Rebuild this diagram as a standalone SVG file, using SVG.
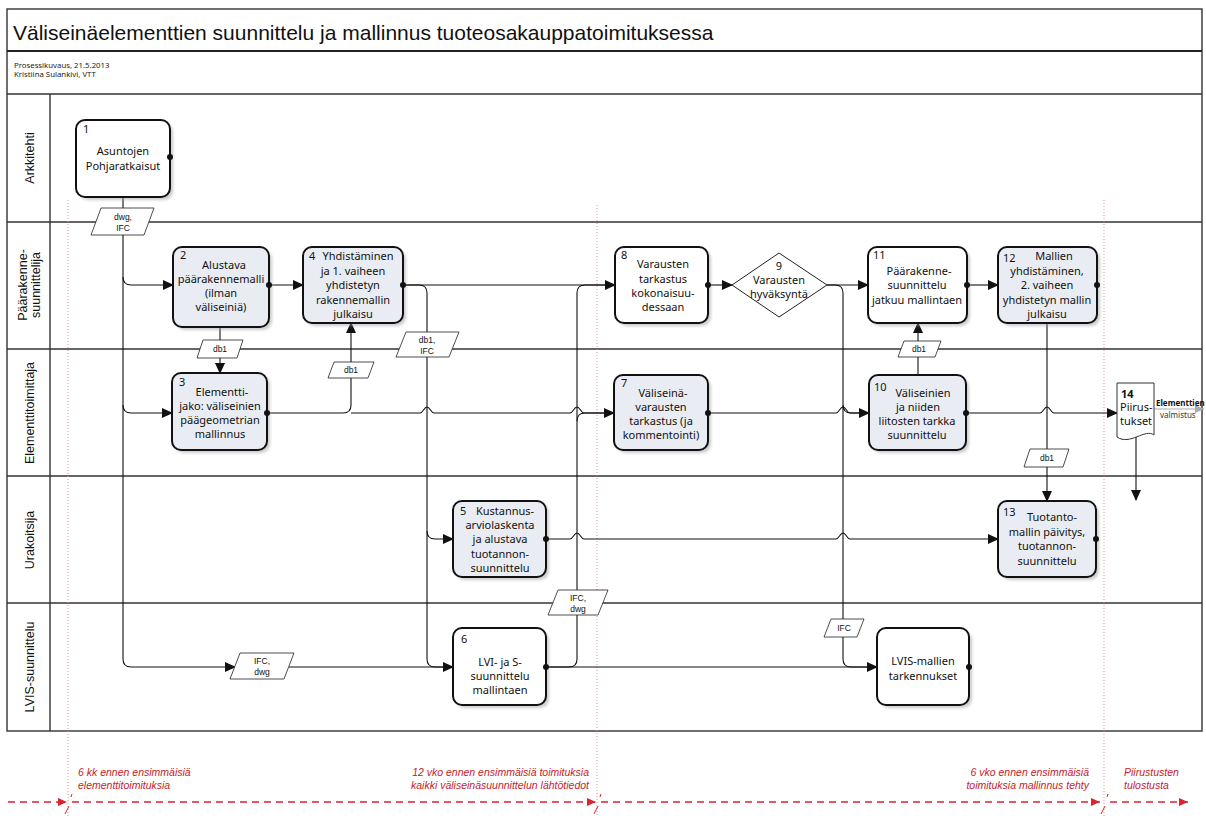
<svg xmlns="http://www.w3.org/2000/svg" width="1206" height="816" viewBox="0 0 1206 816">
<style>
.frame{fill:none;stroke:#333;stroke-width:1.4}
.node{stroke:#111;stroke-width:2}
.w{fill:#fff}
.g{fill:#e9edf3}
.shadow{fill:#999;opacity:0.5}
.t{font-family:"Noto Sans","Open Sans",sans-serif;font-size:11px;fill:#111;text-anchor:middle}
.n{font-family:"Noto Sans","Open Sans",sans-serif;font-size:11px;fill:#111}
.lane{font-family:"Liberation Sans",Arial,sans-serif;font-size:12.5px;fill:#111;text-anchor:middle}
.pg{fill:#fff;stroke:#222;stroke-width:0.8}
.pt{font-family:"Liberation Sans",Arial,sans-serif;font-size:8.5px;fill:#111;text-anchor:middle}
.c{fill:none;stroke:#111;stroke-width:1.1}
.dot{fill:#111}
.red{font-family:"Liberation Sans",Arial,sans-serif;font-size:10.5px;font-style:italic;fill:#c8202a}
.rdot{stroke:#e08a8a;stroke-width:0.9;stroke-dasharray:1 2;fill:none}
.rdash{stroke:#d9232e;stroke-width:1.3;stroke-dasharray:7 5;fill:none}
.rtick{stroke:#d9232e;stroke-width:1;fill:none}
</style>
<defs>
<marker id="arr" markerWidth="11" markerHeight="10" refX="10" refY="5" orient="auto" markerUnits="userSpaceOnUse"><path d="M0,0 L11,5 L0,10 Z" fill="#111"/></marker>
<marker id="rarr" markerWidth="9" markerHeight="8" refX="9" refY="4" orient="auto" markerUnits="userSpaceOnUse"><path d="M0,0 L9,4 L0,8 Z" fill="#d9232e"/></marker>
<marker id="garr" markerWidth="9" markerHeight="8" refX="9" refY="4" orient="auto" markerUnits="userSpaceOnUse"><path d="M0,0 L9,4 L0,8 Z" fill="#aaa"/></marker>
<filter id="blur" x="-10%" y="-10%" width="120%" height="120%"><feGaussianBlur stdDeviation="1.5"/></filter>
</defs>
<rect width="1206" height="816" fill="#fff"/>

<!-- header -->
<g id="header">
<rect x="7" y="9" width="1195" height="722" class="frame"/>
<line x1="7" y1="51" x2="1202" y2="51" stroke="#222" stroke-width="2.2"/>
<line x1="7" y1="94" x2="1202" y2="94" stroke="#333" stroke-width="1.4"/>
<text x="13" y="40" font-family="Liberation Sans,Arial,sans-serif" font-size="21" fill="#111">Väliseinäelementtien suunnittelu ja mallinnus tuoteosakauppatoimituksessa</text>
<text x="14" y="68" font-family="Noto Sans,sans-serif" font-size="7.8" fill="#222">Prosessikuvaus, 21.5.2013</text>
<text x="14" y="77" font-family="Noto Sans,sans-serif" font-size="7.8" fill="#222">Kristiina Sulankivi, VTT</text>
</g>

<!-- lanes -->
<g id="lanes">
<line x1="50" y1="94" x2="50" y2="731" class="frame"/>
<line x1="7" y1="222" x2="1202" y2="222" class="frame"/>
<line x1="7" y1="349" x2="1202" y2="349" class="frame"/>
<line x1="7" y1="476" x2="1202" y2="476" class="frame"/>
<line x1="7" y1="603" x2="1202" y2="603" class="frame"/>
<text class="lane" transform="translate(34,158) rotate(-90)">Arkkitehti</text>
<text class="lane" transform="translate(27,285) rotate(-90)">Päärakenne-</text>
<text class="lane" transform="translate(40,285) rotate(-90)">suunnittelija</text>
<text class="lane" transform="translate(34,413) rotate(-90)">Elementtitoimittaja</text>
<text class="lane" transform="translate(34,540) rotate(-90)">Urakoitsija</text>
<text class="lane" transform="translate(34,667) rotate(-90)">LVIS-suunnittelu</text>
</g>

<!-- red time markers -->
<g id="timeline">
<line x1="68" y1="200" x2="68" y2="816" class="rdot"/>
<line x1="597" y1="205" x2="597" y2="816" class="rdot"/>
<line x1="1104" y1="200" x2="1104" y2="816" class="rdot"/>
<path d="M8,802 H67" class="rdash" marker-end="url(#rarr)"/>
<path d="M72,802 H596" class="rdash" marker-end="url(#rarr)"/>
<path d="M601,802 H1100" class="rdash" marker-end="url(#rarr)"/>
<path d="M1110,802 H1188" class="rdash" marker-end="url(#rarr)"/>
<path d="M65,814 L69,806 M71,797 L72,794" class="rtick"/>
<path d="M594,814 L598,806 M600,797 L601,794" class="rtick"/>
<path d="M1101,814 L1105,806 M1107,797 L1108,794" class="rtick"/>
<text class="red" x="78" y="776">6 kk ennen ensimmäisiä</text>
<text class="red" x="78" y="789">elementtitoimituksia</text>
<text class="red" x="589" y="776" text-anchor="end">12 vko ennen ensimmäisiä toimituksia</text>
<text class="red" x="589" y="789" text-anchor="end">kaikki väliseinäsuunnittelun lähtötiedot</text>
<text class="red" x="1089" y="776" text-anchor="end">6 vko ennen ensimmäisiä</text>
<text class="red" x="1089" y="789" text-anchor="end">toimituksia mallinnus tehty</text>
<text class="red" x="1124" y="776">Piirustusten</text>
<text class="red" x="1124" y="789">tulostusta</text>
</g>

<!-- connectors -->
<g id="connectors">
<path class="c" d="M123,197 V659 Q123,667 131,667 H235" marker-end="url(#arr)"/>
<path class="c" d="M123,277 Q123,285 131,285 H173" marker-end="url(#arr)"/>
<path class="c" d="M123,405 Q123,413 131,413 H172" marker-end="url(#arr)"/>
<path class="c" d="M289,667 H453" marker-end="url(#arr)"/>
<path class="c" d="M269,285 H303" marker-end="url(#arr)"/>
<path class="c" d="M220,327 V373" marker-end="url(#arr)"/>
<path class="c" d="M267,413 H343 Q351,413 351,405 V323" marker-end="url(#arr)"/>
<path class="c" d="M351,413 H420 c3,0 4,-6 7,-6 c3,0 4,6 7,6 H570 c3,0 4,-6 7,-6 c3,0 4,6 7,6 H614" marker-end="url(#arr)"/>
<path class="c" d="M403,285 H615" marker-end="url(#arr)"/>
<path class="c" d="M403,285 H419 Q427,285 427,293 V531 Q427,539 435,539 H453" marker-end="url(#arr)"/>
<path class="c" d="M427,531 V659 Q427,667 435,667 H453"/>
<path class="c" d="M546,667 H569 Q577,667 577,659 V293 Q577,285 585,285 H615"/>
<path class="c" d="M577,421 Q577,413 585,413 H614"/>
<path class="c" d="M546,667 H877" marker-end="url(#arr)"/>
<path class="c" d="M708,285 H732" marker-end="url(#arr)"/>
<path class="c" d="M827,285 H868" marker-end="url(#arr)"/>
<path class="c" d="M827,285 H835 Q843,285 843,293 V659 Q843,667 851,667 H877"/>
<path class="c" d="M843,405 Q843,413 851,413 H869"/>
<path class="c" d="M708,413 H836 c3,0 4,-6 7,-6 c3,0 4,6 7,6 H869" marker-end="url(#arr)"/>
<path class="c" d="M918,375 V323" marker-end="url(#arr)"/>
<path class="c" d="M967,285 H998" marker-end="url(#arr)"/>
<path class="c" d="M1047,323 V501" marker-end="url(#arr)"/>
<path class="c" d="M966,413 H1040 c3,0 4,-6 7,-6 c3,0 4,6 7,6 H1117" marker-end="url(#arr)"/>
<path class="c" d="M546,539 H570 c3,0 4,-6 7,-6 c3,0 4,6 7,6 H836 c3,0 4,-6 7,-6 c3,0 4,6 7,6 H998" marker-end="url(#arr)"/>
<path class="c" d="M1136,437 V500" marker-end="url(#arr)"/>
<path d="M1154,409 H1204" stroke="#aaa" stroke-width="1.2" fill="none" marker-end="url(#garr)"/>
</g>

<!-- data parallelograms -->
<g id="data-dwg-ifc"><polygon class="pg" points="101,208 154,208 144,235 91,235"/><text class="pt" x="123" y="220">dwg,</text><text class="pt" x="123" y="231">IFC</text></g>
<g id="data-db1-a"><polygon class="pg" points="203,340 243,340 237,358 197,358"/><text class="pt" x="220" y="352">db1</text></g>
<g id="data-db1-b"><polygon class="pg" points="334,362 374,362 368,378 328,378"/><text class="pt" x="351" y="373">db1</text></g>
<g id="data-db1-ifc"><polygon class="pg" points="406,332 459,332 449,357 396,357"/><text class="pt" x="427" y="343">db1,</text><text class="pt" x="427" y="354">IFC</text></g>
<g id="data-ifc-dwg-a"><polygon class="pg" points="240,653 294,653 284,679 230,679"/><text class="pt" x="262" y="664">IFC,</text><text class="pt" x="262" y="675">dwg</text></g>
<g id="data-ifc-dwg-b"><polygon class="pg" points="558,590 608,590 598,615 548,615"/><text class="pt" x="578" y="601">IFC,</text><text class="pt" x="578" y="612">dwg</text></g>
<g id="data-ifc"><polygon class="pg" points="831,619 864,619 857,637 824,637"/><text class="pt" x="844" y="631">IFC</text></g>
<g id="data-db1-c"><polygon class="pg" points="904,341 941,341 935,357 898,357"/><text class="pt" x="919" y="352">db1</text></g>
<g id="data-db1-d"><polygon class="pg" points="1030,449 1069,449 1063,467 1024,467"/><text class="pt" x="1047" y="461">db1</text></g>

<!-- nodes -->
<g id="node1">
<rect x="79" y="123" width="94" height="77" rx="9" class="shadow" filter="url(#blur)"/>
<rect x="76" y="120" width="94" height="77" rx="9" class="node w"/>
<circle cx="170" cy="157" r="3" class="dot"/>
<text class="n" x="83" y="133">1</text>
<text class="t" x="123" y="155">Asuntojen</text>
<text class="t" x="123" y="170">Pohjaratkaisut</text>
</g>
<g id="node2">
<rect x="176" y="250" width="96" height="80" rx="9" class="shadow" filter="url(#blur)"/>
<rect x="173" y="247" width="96" height="80" rx="9" class="node g"/>
<circle cx="269" cy="285" r="3" class="dot"/>
<text class="n" x="180" y="259">2</text>
<text class="t" x="224" y="269">Alustava</text>
<text class="t" x="221" y="283">päärakennemalli</text>
<text class="t" x="221" y="297">(ilman</text>
<text class="t" x="221" y="311">väliseiniä)</text>
</g>
<g id="node3">
<rect x="175" y="376" width="95" height="77" rx="9" class="shadow" filter="url(#blur)"/>
<rect x="172" y="373" width="95" height="77" rx="9" class="node g"/>
<circle cx="267" cy="413" r="3" class="dot"/>
<text class="n" x="179" y="386">3</text>
<text class="t" x="222" y="396">Elementti-</text>
<text class="t" x="220" y="410">jako: väliseinien</text>
<text class="t" x="220" y="424">päägeometrian</text>
<text class="t" x="220" y="438">mallinnus</text>
</g>
<g id="node4">
<rect x="306" y="250" width="100" height="76" rx="9" class="shadow" filter="url(#blur)"/>
<rect x="303" y="247" width="100" height="76" rx="9" class="node g"/>
<circle cx="403" cy="285" r="3" class="dot"/>
<text class="n" x="309" y="260">4</text>
<text class="t" x="358" y="260">Yhdistäminen</text>
<text class="t" x="353" y="275">ja 1. vaiheen</text>
<text class="t" x="353" y="289">yhdistetyn</text>
<text class="t" x="353" y="304">rakennemallin</text>
<text class="t" x="353" y="318">julkaisu</text>
</g>
<g id="node5">
<rect x="456" y="504" width="93" height="76" rx="9" class="shadow" filter="url(#blur)"/>
<rect x="453" y="501" width="93" height="76" rx="9" class="node g"/>
<circle cx="546" cy="539" r="3" class="dot"/>
<text class="n" x="460" y="515">5</text>
<text class="t" x="505" y="515">Kustannus-</text>
<text class="t" x="500" y="529">arviolaskenta</text>
<text class="t" x="500" y="543">ja alustava</text>
<text class="t" x="500" y="558">tuotannon-</text>
<text class="t" x="500" y="572">suunnittelu</text>
</g>
<g id="node6">
<rect x="456" y="631" width="93" height="77" rx="9" class="shadow" filter="url(#blur)"/>
<rect x="453" y="628" width="93" height="77" rx="9" class="node w"/>
<circle cx="546" cy="667" r="3" class="dot"/>
<text class="n" x="461" y="643">6</text>
<text class="t" x="500" y="666">LVI- ja S-</text>
<text class="t" x="500" y="680">suunnittelu</text>
<text class="t" x="500" y="694">mallintaen</text>
</g>
<g id="node7">
<rect x="617" y="378" width="94" height="75" rx="9" class="shadow" filter="url(#blur)"/>
<rect x="614" y="375" width="94" height="75" rx="9" class="node g"/>
<circle cx="708" cy="413" r="3" class="dot"/>
<text class="n" x="621" y="387">7</text>
<text class="t" x="663" y="397">Väliseinä-</text>
<text class="t" x="661" y="411">varausten</text>
<text class="t" x="661" y="425">tarkastus (ja</text>
<text class="t" x="661" y="439">kommentointi)</text>
</g>
<g id="node8">
<rect x="618" y="250" width="93" height="76" rx="9" class="shadow" filter="url(#blur)"/>
<rect x="615" y="247" width="93" height="76" rx="9" class="node w"/>
<circle cx="708" cy="285" r="3" class="dot"/>
<text class="n" x="621" y="259">8</text>
<text class="t" x="663" y="268">Varausten</text>
<text class="t" x="663" y="283">tarkastus</text>
<text class="t" x="663" y="297">kokonaisuu-</text>
<text class="t" x="663" y="311">dessaan</text>
</g>
<g id="node9">
<polygon points="779,253 827,285 779,317 732,285" fill="#fff" stroke="#222" stroke-width="1"/>
<text class="t" x="779" y="270">9</text>
<text class="t" x="779" y="284">Varausten</text>
<text class="t" x="779" y="298">hyväksyntä</text>
</g>
<g id="node10">
<rect x="872" y="378" width="97" height="75" rx="9" class="shadow" filter="url(#blur)"/>
<rect x="869" y="375" width="97" height="75" rx="9" class="node g"/>
<circle cx="966" cy="413" r="3" class="dot"/>
<text class="n" x="874" y="391">10</text>
<text class="t" x="923" y="397">Väliseinien</text>
<text class="t" x="918" y="411">ja niiden</text>
<text class="t" x="917" y="425">liitosten tarkka</text>
<text class="t" x="917" y="439">suunnittelu</text>
</g>
<g id="node11">
<rect x="871" y="250" width="99" height="76" rx="9" class="shadow" filter="url(#blur)"/>
<rect x="868" y="247" width="99" height="76" rx="9" class="node w"/>
<circle cx="967" cy="285" r="3" class="dot"/>
<text class="n" x="873" y="259">11</text>
<text class="t" x="919" y="275">Päärakenne-</text>
<text class="t" x="917" y="289">suunnittelu</text>
<text class="t" x="917" y="304">jatkuu mallintaen</text>
</g>
<g id="node12">
<rect x="1001" y="250" width="99" height="76" rx="9" class="shadow" filter="url(#blur)"/>
<rect x="998" y="247" width="99" height="76" rx="9" class="node g"/>
<circle cx="1097" cy="285" r="3" class="dot"/>
<text class="n" x="1003" y="262">12</text>
<text class="t" x="1054" y="260">Mallien</text>
<text class="t" x="1047" y="275">yhdistäminen,</text>
<text class="t" x="1047" y="289">2. vaiheen</text>
<text class="t" x="1047" y="304">yhdistetyn mallin</text>
<text class="t" x="1047" y="318">julkaisu</text>
</g>
<g id="node13">
<rect x="1001" y="504" width="98" height="76" rx="9" class="shadow" filter="url(#blur)"/>
<rect x="998" y="501" width="98" height="76" rx="9" class="node g"/>
<circle cx="1096" cy="539" r="3" class="dot"/>
<text class="n" x="1003" y="516">13</text>
<text class="t" x="1052" y="521">Tuotanto-</text>
<text class="t" x="1047" y="536">mallin päivitys,</text>
<text class="t" x="1047" y="550">tuotannon-</text>
<text class="t" x="1047" y="565">suunnittelu</text>
</g>
<g id="nodeLVIS">
<rect x="880" y="631" width="92" height="77" rx="9" class="shadow" filter="url(#blur)"/>
<rect x="877" y="628" width="92" height="77" rx="9" class="node w"/>
<circle cx="969" cy="667" r="3" class="dot"/>
<text class="t" x="923" y="665">LVIS-mallien</text>
<text class="t" x="923" y="680">tarkennukset</text>
</g>
<g id="node14">
<path d="M1117,383 H1154 V435 C1145,428 1130,446 1117,437 Z" fill="#fff" stroke="#333" stroke-width="1"/>
<text class="n" x="1121" y="398" font-weight="bold">14</text>
<text class="n" x="1120" y="411" font-size="10.5">Piirus-</text>
<text class="n" x="1120" y="425" font-size="10.5">tukset</text>
<text x="1156" y="406" font-family="Noto Sans,sans-serif" font-size="8" font-weight="bold" fill="#111">Elementtien</text>
<text x="1160" y="418" font-family="Noto Sans,sans-serif" font-size="8" fill="#333">valmistus</text>
</g>
</svg>
